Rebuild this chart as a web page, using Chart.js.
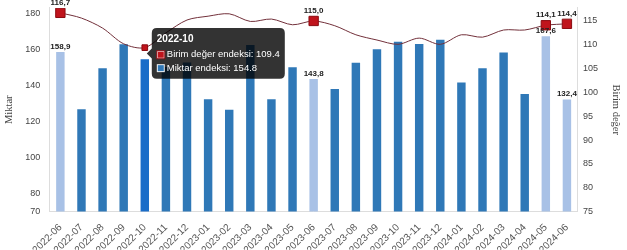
<!DOCTYPE html>
<html>
<head>
<meta charset="utf-8">
<script src="https://cdn.jsdelivr.net/npm/chart.js@4.4.1/dist/chart.umd.min.js"></script>
<style>
  html, body { margin: 0; padding: 0; overflow: hidden; background: #fff; }
  #wrap { width: 627px; height: 273px; margin-top: -7px; }
</style>
</head>
<body>
<div id="wrap"><canvas id="chart"></canvas></div>
<script>
const months = ['2022-06', '2022-07', '2022-08', '2022-09', '2022-10', '2022-11', '2022-12',
  '2023-01', '2023-02', '2023-03', '2023-04', '2023-05', '2023-06', '2023-07', '2023-08',
  '2023-09', '2023-10', '2023-11', '2023-12', '2024-01', '2024-02', '2024-03', '2024-04',
  '2024-05', '2024-06'];
const miktar = [158.9, 127.0, 149.8, 163.2, 154.8, 150.5, 153.0,
  132.6, 126.7, 162.8, 132.6, 150.4, 143.8, 138.2, 152.9,
  160.4, 164.6, 163.3, 165.6, 141.8, 149.8, 158.5, 135.4,
  167.6, 132.4];
const birimDeger = [116.7, 115.6, 113.5, 110.2, 109.4, 112.5, 115.2,
  116.0, 116.5, 114.9, 115.4, 114.2, 115.0, 114.0, 112.1,
  111.0, 110.1, 111.4, 110.1, 112.1, 111.6, 113.1, 113.1,
  114.1, 114.4];
const miktarTicks = [70, 80, 100, 120, 140, 160, 180];
const birimTicks = [75, 80, 85, 90, 95, 100, 105, 110, 115];
// months shown with a light bar, a marker and value labels
const highlighted = ['2022-06', '2023-06', '2024-05', '2024-06'];
const hovered = '2022-10';

const isHi = i => highlighted.includes(months[i]);
Chart.defaults.font.family = '"Liberation Sans", Arial, sans-serif';

// draws the value labels (comma decimals) above the highlighted bars and points
const valueLabels = {
  id: 'valueLabels',
  afterDatasetsDraw(chart) {
    const ctx = chart.ctx;
    ctx.save();
    ctx.font = 'bold 8px "Liberation Sans", Arial, sans-serif';
    ctx.fillStyle = '#222';
    ctx.textAlign = 'center';
    ctx.textBaseline = 'alphabetic';
    chart.data.datasets.forEach((ds, di) => {
      const meta = chart.getDatasetMeta(di);
      meta.data.forEach((el, i) => {
        if (!isHi(i)) return;
        const gap = ds.type === 'line' ? 8 : 3;
        ctx.fillText(ds.data[i].toFixed(1).replace('.', ','), el.x, el.y - gap);
      });
    });
    ctx.restore();
  }
};

const noGrid = { display: false, drawTicks: false, tickLength: 0 };
const titleFont = { family: '"Liberation Serif", "DejaVu Serif", serif', size: 10.5 };

const chart = new Chart(document.getElementById('chart'), {
  type: 'bar',
  data: {
    labels: months,
    datasets: [
      {
        type: 'line',
        label: 'Birim değer endeksi',
        data: birimDeger,
        yAxisID: 'y1',
        borderColor: '#72303a',
        borderWidth: 1,
        tension: 0.3,
        pointStyle: 'rect',
        pointRadius: ctx => isHi(ctx.dataIndex) ? 6.6 : 0,
        pointBackgroundColor: '#c0141c',
        pointBorderColor: '#8b0a10',
        pointBorderWidth: 1,
        pointHoverRadius: 4,
        pointHoverBackgroundColor: '#c0141c',
        pointHoverBorderColor: '#8b0a10',
        pointHoverBorderWidth: 1
      },
      {
        label: 'Miktar endeksi',
        data: miktar,
        yAxisID: 'y',
        backgroundColor: ctx => isHi(ctx.dataIndex) ? '#a8c1e6' : '#2f78b7',
        hoverBackgroundColor: '#1a6dc8',
        barPercentage: 0.4,
        categoryPercentage: 1
      }
    ]
  },
  options: {
    responsive: true,
    maintainAspectRatio: false,
    animation: false,
    events: [],
    layout: { padding: 0 },
    plugins: {
      legend: { display: false },
      tooltip: {
        mode: 'index',
        intersect: false,
        backgroundColor: 'rgba(0,0,0,0.8)',
        titleFont: { size: 10, weight: 'bold' },
        bodyFont: { size: 9.5 },
        padding: 5,
        titleMarginBottom: 4,
        bodySpacing: 2,
        cornerRadius: 5,
        boxWidth: 8,
        boxHeight: 8,
        caretSize: 5
      }
    },
    scales: {
      x: {
        grid: noGrid,
        border: { display: true, color: '#ddd' },
        ticks: { color: '#555', font: { size: 10 }, minRotation: 45, maxRotation: 45, autoSkip: false, padding: 10 }
      },
      y: {
        position: 'left',
        min: 70,
        max: 183.4,
        grid: noGrid,
        border: { display: true, color: '#ddd' },
        afterBuildTicks: s => { s.ticks = miktarTicks.map(v => ({ value: v })); },
        ticks: { color: '#444', font: { size: 9 }, padding: 9.5 },
        title: { display: true, text: 'Miktar', color: '#444', font: titleFont, padding: { top: 3.2, bottom: 0 } }
      },
      y1: {
        position: 'right',
        min: 75,
        max: 117.74,
        grid: noGrid,
        border: { display: true, color: '#ddd' },
        afterBuildTicks: s => { s.ticks = birimTicks.map(v => ({ value: v })); },
        ticks: { color: '#444', font: { size: 9 }, padding: 5.5 },
        title: { display: true, text: 'Birim değer', color: '#444', font: titleFont, padding: { top: 4.7, bottom: 6.2 } }
      }
    }
  },
  plugins: [valueLabels]
});

// show the hover state of 2022-10 as in the reference
const hi = months.indexOf(hovered);
const act = [{ datasetIndex: 0, index: hi }, { datasetIndex: 1, index: hi }];
chart.setActiveElements(act);
chart.tooltip.setActiveElements(act, { x: 0, y: 0 });
chart.update('none');
</script>
</body>
</html>
